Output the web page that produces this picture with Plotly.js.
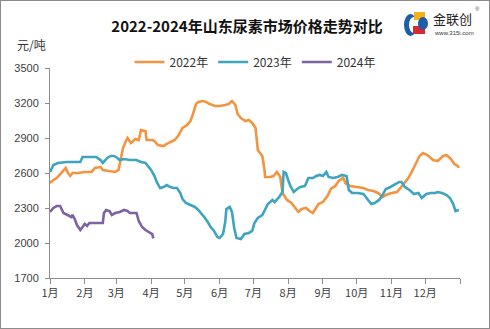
<!DOCTYPE html>
<html>
<head>
<meta charset="utf-8">
<script src="https://cdn.plot.ly/plotly-3.0.1.min.js"></script>
<style>
html,body{margin:0;padding:0;background:#fff;}
#wrap{position:relative;width:490px;height:329px;}
#chart{width:490px;height:329px;}
#frame{position:absolute;left:0;top:0;width:488px;height:327px;border:1px solid #8c8c8c;pointer-events:none;}
</style>
</head>
<body>
<div id="wrap"><div id="chart"></div><div id="frame"></div></div>
<script>
// ---- data (day of year, 元/吨) ----
const monthTicks = [0,31,59,90,120,151,181,212,243,273,304,334,365];
const monthLabels = ["1月","2月","3月","4月","5月","6月","7月","8月","9月","10月","11月","12月",""];

const days2022 = [0,3,6,9,12,14,16,18,20,25,31,37,40,45,47,52,58,61,62,65,68,69,72,76,79,81,85,86,91,93,96,101,104,107,111,114,118,122,125,127,130,132,136,139,142,147,151,156,159,162,165,167,170,174,177,180,183,185,189,191,191.5,196,199,202,205,207,211,215,218,221,224,228,231,234,239,243,247,250,254,257,261,263,267,272,279,283,288,292,296,299,304,309,312,315,319,322,326,329,332,336,341,345,350,353,357,360,363,364];
const vals2022 = [2514,2540,2557,2590,2626,2643,2600,2575,2600,2600,2609,2609,2643,2651,2626,2617,2609,2626,2669,2814,2883,2900,2857,2892,2883,2969,2960,2883,2883,2874,2840,2831,2849,2866,2883,2917,2986,3011,3046,3097,3191,3209,3217,3209,3191,3174,3174,3183,3191,3217,3183,3106,3071,3046,3054,3029,2986,2797,2746,2626,2566,2566,2574,2609,2566,2429,2369,2343,2300,2266,2291,2300,2274,2257,2334,2351,2403,2463,2489,2531,2557,2514,2489,2480,2471,2454,2446,2429,2394,2411,2429,2437,2471,2514,2557,2609,2694,2746,2771,2754,2711,2703,2746,2754,2720,2677,2660,2643];

const days2023 = [0,3,7,15,27,29,41,45,47,51,54,57,60,62,66,71,77,81,85,87,90,93,95,98,101,104,107,110,113,116,118,121,126,129,132,135,138,141,143,146,149,151,154,156,157,160,162,164,166,170,173,177,180,182,185,189,191,194,198,200,204,207,208,210,212,214,217,220,223,227,230,234,237,240,243,246,248,252,256,260,264,266,269,274,279,282,286,289,293,296,299,303,306,311,313,316,320,324,328,331,335,339,343,345,349,353,356,359,361,364];
const vals2023 = [2609,2669,2686,2694,2694,2737,2737,2711,2686,2729,2746,2746,2729,2711,2720,2711,2711,2694,2686,2660,2626,2574,2523,2471,2480,2497,2480,2471,2471,2429,2377,2343,2326,2309,2283,2249,2214,2171,2137,2103,2051,2043,2077,2180,2291,2309,2266,2129,2043,2034,2077,2086,2103,2171,2214,2240,2274,2334,2369,2351,2394,2437,2609,2600,2540,2489,2437,2463,2480,2489,2557,2557,2574,2583,2574,2609,2566,2557,2566,2583,2574,2454,2429,2429,2420,2386,2334,2343,2369,2411,2463,2480,2497,2523,2523,2480,2454,2420,2429,2386,2420,2429,2429,2437,2429,2411,2386,2334,2274,2283];

const days2024 = [0,3,6,9,12,15,19,20,22,24,27,29,31,33,35,40,47,48,50,53,55,58,62,66,69,71,77,79,82,85,88,91,92];
const vals2024 = [2266,2300,2317,2317,2257,2240,2223,2240,2206,2154,2111,2137,2163,2146,2171,2171,2171,2257,2283,2274,2240,2257,2266,2283,2274,2257,2257,2189,2137,2111,2094,2077,2040];

const seriesNames = ["2022年","2023年","2024年"];
const seriesColors = ["#F39440","#3FA4BD","#7E62A3"];
const yTicks = [1700,2000,2300,2600,2900,3200,3500];

// ---- layout helpers ----
const W=490,H=329,L=50,R=30,T=68,B=51;
const PW=W-L-R, PH=H-T-B;
const px = x => (x-L)/PW;
const py = y => (H-B-y)/PH;

const FONT = "Liberation Sans, Arial, Noto Sans CJK SC, sans-serif";
const CJK = "Noto Sans CJK SC, Liberation Sans, sans-serif";

const traces = [
  {x:days2022,y:vals2022,name:seriesNames[0],line:{color:seriesColors[0],width:2.6}},
  {x:days2023,y:vals2023,name:seriesNames[1],line:{color:seriesColors[1],width:2.6}},
  {x:days2024,y:vals2024,name:seriesNames[2],line:{color:seriesColors[2],width:2.6}}
].map(t=>Object.assign({type:"scatter",mode:"lines",hoverinfo:"skip"},t));

function box(x0,y0,x1,y1){return {x0:px(x0),x1:px(x1),y0:py(y0),y1:py(y1)};}

const shapes = [
  Object.assign({type:"circle",xref:"paper",yref:"paper",fillcolor:"#1C5CA8",line:{width:0}},box(404,14,417,36)),
  Object.assign({type:"circle",xref:"paper",yref:"paper",fillcolor:"#ffffff",line:{width:0}},box(409,17,419,33)),
  Object.assign({type:"rect",xref:"paper",yref:"paper",fillcolor:"#F2B11B",line:{width:0}},box(414,12,425,20)),
  Object.assign({type:"rect",xref:"paper",yref:"paper",fillcolor:"#D9282E",line:{width:0}},box(413,26,425,34)),
  Object.assign({type:"circle",xref:"paper",yref:"paper",fillcolor:"#1C5CA8",line:{width:0}},box(418,17,428,30))
];

const layout = {
  width:W,height:H,
  margin:{l:L,r:R,t:T,b:B,pad:0},
  paper_bgcolor:"#ffffff",plot_bgcolor:"#ffffff",
  font:{family:FONT,size:11,color:"#404040"},
  title:{text:"2022-2024年山东尿素市场价格走势对比",x:247/W,xref:"container",xanchor:"center",
         y:1-27/H,yref:"container",yanchor:"middle",
         font:{family:CJK,size:15,color:"#111111",weight:"bold"}},
  showlegend:true,
  legend:{orientation:"h",x:0.5,xanchor:"center",y:py(62),yanchor:"middle",
          font:{family:CJK,size:12,color:"#333333"},bgcolor:"rgba(0,0,0,0)",
          itemwidth:30,tracegroupgap:0,traceorder:"normal"},
  xaxis:{range:[0,365],tickmode:"array",tickvals:monthTicks,ticktext:monthLabels,
         showgrid:false,zeroline:false,showline:true,linecolor:"#8c8c8c",linewidth:1,
         ticks:"outside",ticklen:5,tickcolor:"#8c8c8c",
         tickfont:{family:CJK,size:11,color:"#404040"},fixedrange:true},
  yaxis:{range:[1700,3500],tickmode:"array",tickvals:yTicks,
         showgrid:false,zeroline:false,showline:true,linecolor:"#8c8c8c",linewidth:1,
         ticks:"outside",ticklen:4,tickcolor:"#8c8c8c",ticklabelstandoff:4,
         tickfont:{family:FONT,size:11,color:"#404040"},fixedrange:true},
  shapes:shapes,
  annotations:[
    {text:"元/吨",xref:"paper",yref:"paper",x:px(15),y:py(45),xanchor:"left",yanchor:"middle",
     showarrow:false,font:{family:CJK,size:12,color:"#333333"}},
    {text:"金联创",xref:"paper",yref:"paper",x:px(431),y:py(19),xanchor:"left",yanchor:"middle",
     showarrow:false,font:{family:CJK,size:13,color:"#222222"}},
    {text:"®",xref:"paper",yref:"paper",x:px(473),y:py(9),xanchor:"left",yanchor:"middle",
     showarrow:false,font:{family:FONT,size:6,color:"#555555"}},
    {text:"www.315i.com",xref:"paper",yref:"paper",x:px(432),y:py(33),xanchor:"left",yanchor:"middle",
     showarrow:false,font:{family:FONT,size:6,color:"#333333"}}
  ]
};

Plotly.newPlot("chart",traces,layout,{displayModeBar:false,staticPlot:true});
</script>
</body>
</html>
